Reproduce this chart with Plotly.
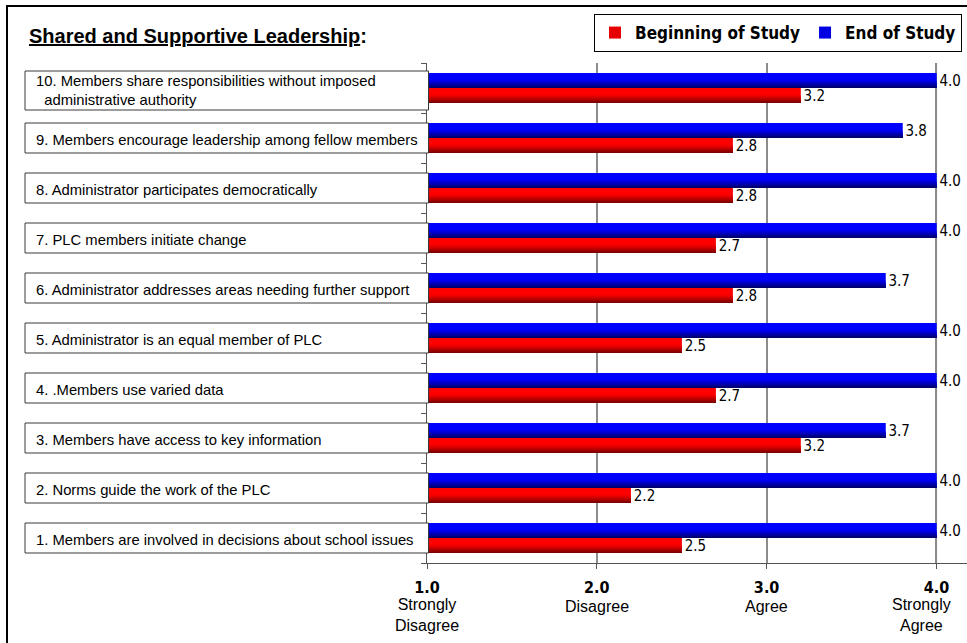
import plotly.graph_objects as go

# Survey items (bottom to top) and mean ratings on a 1-4 scale
item_ids = ["1", "2", "3", "4", "5", "6", "7", "8", "9", "10"]
item_labels = [
    "1. Members are involved in decisions about school issues",
    "2. Norms guide the work of the PLC",
    "3. Members have access to key information",
    "4. .Members use varied data",
    "5. Administrator is an equal member of PLC",
    "6. Administrator addresses areas needing further support",
    "7. PLC members initiate change",
    "8. Administrator participates democratically",
    "9. Members encourage leadership among fellow members",
    "10. Members share responsibilities without imposed<br>&nbsp;&nbsp;administrative authority",
]
beginning = [2.5, 2.2, 3.2, 2.7, 2.5, 2.8, 2.7, 2.8, 2.8, 3.2]
end = [4.0, 4.0, 3.7, 4.0, 4.0, 3.7, 4.0, 4.0, 3.8, 4.0]

tick_values = [1.0, 2.0, 3.0, 4.0]
tick_numbers = ["1.0", "2.0", "3.0", "4.0"]
tick_words = ["Strongly<br>Disagree", "Disagree", "Agree", "Strongly<br>Agree"]

title_text = "<u>Shared and Supportive Leadership</u>:"

NARROW = "Liberation Sans Narrow, Arial Narrow, DejaVu Sans Condensed, sans-serif"
ARIAL = "Liberation Sans, Arial, sans-serif"

W, H = 967, 643
ML, MR, MT, MB = 427, 0, 63, 80
PW, PH = W - ML - MR, H - MT - MB


def px_x(p):
    return (p - ML) / PW


def px_y(p):
    return (H - MB - p) / PH


BAR_W = 0.3
# vertical shading: lower part of every bar darkens toward the bottom edge
SHADE_LEVELS = [0.55, 0.48, 0.41, 0.34, 0.27, 0.20, 0.13, 0.06]


def shade(top_rgb, dark_rgb, p, knee=0.55):
    if p >= knee:
        return "rgb(%d,%d,%d)" % top_rgb
    t = p / knee
    c = [d + (u - d) * t for u, d in zip(top_rgb, dark_rgb)]
    return "rgb(%d,%d,%d)" % tuple(round(v) for v in c)


series = [
    ("Beginning of Study", beginning, (255, 0, 0), (118, 0, 0), -BAR_W),
    ("End of Study", end, (0, 0, 255), (0, 0, 100), 0.0),
]

fig = go.Figure()

for name, vals, top, dark, off in series:
    fig.add_trace(go.Bar(
        name=name, y=item_ids, x=vals, orientation="h",
        width=BAR_W, offset=off,
        marker=dict(color=shade(top, dark, 0.45), line=dict(width=0)),
        texttemplate="%{x:.1f}", textposition="outside", textangle=0,
        constraintext="none", cliponaxis=False,
        textfont=dict(family=NARROW, size=15, color="black"),
        hoverinfo="skip",
    ))

for name, vals, top, dark, off in series:
    # upper pure band
    fig.add_trace(go.Bar(
        y=item_ids, x=vals, orientation="h",
        width=BAR_W * (1 - SHADE_LEVELS[0]), offset=off + BAR_W * SHADE_LEVELS[0],
        marker=dict(color=shade(top, dark, 1.0), line=dict(width=0)),
        showlegend=False, hoverinfo="skip",
    ))
    step = SHADE_LEVELS[0] - SHADE_LEVELS[1]
    for f in SHADE_LEVELS:
        fig.add_trace(go.Bar(
            y=item_ids, x=vals, orientation="h",
            width=BAR_W * f, offset=off,
            marker=dict(color=shade(top, dark, f - step / 2), line=dict(width=0)),
            showlegend=False, hoverinfo="skip",
        ))

shapes = []
annotations = []

# gridline at the top of the scale
shapes.append(dict(type="line", xref="x", yref="paper", x0=4.0, x1=4.0, y0=0, y1=1,
                   line=dict(color="black", width=1.2), layer="below"))

# item boxes with left-aligned text
for i, lab in enumerate(item_labels):
    if "<br>" in lab:
        y0, y1 = i - 0.44, i + 0.34
        yt = i - 0.05
    else:
        y0, y1 = i - 0.30, i + 0.30
        yt = i - 0.03
    shapes.append(dict(type="rect", xref="paper", yref="y",
                       x0=px_x(25), x1=px_x(428.5), y0=y0, y1=y1,
                       line=dict(color="#3a3a3a", width=1), fillcolor="white",
                       layer="above"))
    annotations.append(dict(text=lab, xref="paper", yref="y", x=px_x(34), y=yt,
                            xanchor="left", yanchor="middle", align="left",
                            showarrow=False,
                            font=dict(family=ARIAL, size=14.8, color="black")))

# descriptive words under the numeric ticks
for v, words in zip(tick_values, tick_words):
    two_lines = "<br>" in words
    annotations.append(dict(text=words, xref="x", yref="paper", x=v,
                            y=px_y(615 if two_lines else 606),
                            xanchor="center", yanchor="middle", align="center",
                            xshift=-15 if v == tick_values[-1] else 0,
                            showarrow=False,
                            font=dict(family=ARIAL, size=16, color="black")))

# title
annotations.append(dict(text=title_text, xref="paper", yref="paper",
                        x=px_x(27), y=px_y(36), xanchor="left", yanchor="middle",
                        showarrow=False,
                        font=dict(family=ARIAL, size=20, color="black", weight="bold")))

# outer frame
shapes.append(dict(type="rect", xref="paper", yref="paper",
                   x0=px_x(7), x1=px_x(990), y0=px_y(6), y1=px_y(700),
                   line=dict(color="black", width=2), fillcolor="rgba(0,0,0,0)",
                   layer="above"))

fig.update_layout(
    width=W, height=H,
    margin=dict(l=ML, r=MR, t=MT, b=MB),
    paper_bgcolor="white", plot_bgcolor="white",
    barmode="overlay",
    showlegend=True,
    legend=dict(orientation="h", x=px_x(962), xanchor="right", y=px_y(14), yanchor="top",
                bordercolor="black", borderwidth=1, bgcolor="white",
                font=dict(family=NARROW, size=17, color="black", weight="bold"),
                traceorder="normal", tracegroupgap=0),
    xaxis=dict(range=[1, 4.18], tickmode="array", tickvals=tick_values, ticktext=tick_numbers,
               tickfont=dict(family=NARROW, size=16, color="black", weight="bold"),
               ticklabelstandoff=5,
               showgrid=True, gridcolor="#8c8c8c", gridwidth=2,
               showline=True, linecolor="#555555", linewidth=1,
               ticks="outside", ticklen=5, tickcolor="#555555",
               zeroline=False, fixedrange=True),
    yaxis=dict(type="category", categoryorder="array", categoryarray=item_ids,
               range=[-0.5, len(item_ids) - 0.5],
               showticklabels=False, ticks="outside", tickson="boundaries", ticklen=5,
               tickcolor="#555555", showline=True, linecolor="#555555", linewidth=1,
               showgrid=False, zeroline=False, fixedrange=True),
    shapes=shapes,
    annotations=annotations,
)

fig.write_html("out.html")
